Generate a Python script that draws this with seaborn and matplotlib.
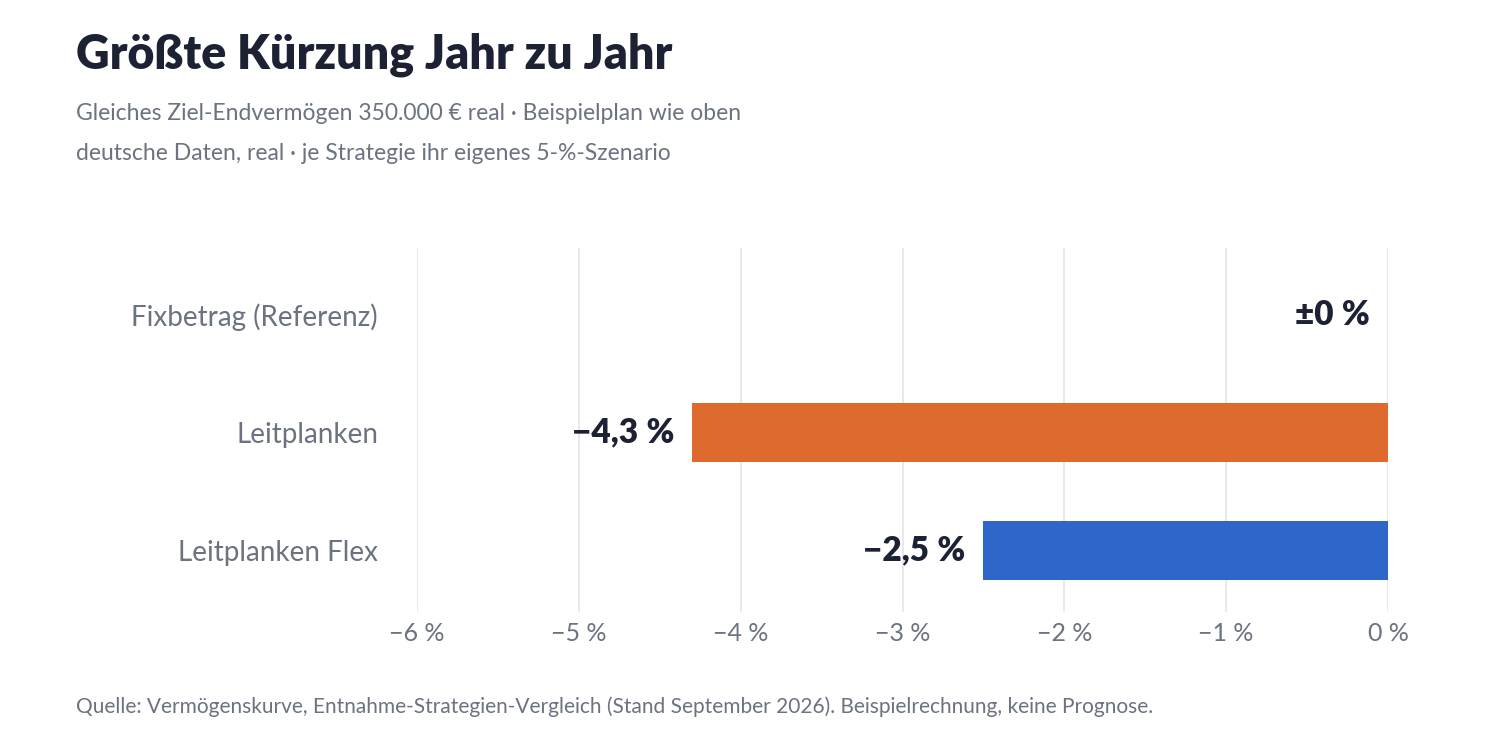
import pandas as pd
import matplotlib.pyplot as plt
import seaborn as sns

# Data
strategies = ['Fixbetrag (Referenz)', 'Leitplanken', 'Leitplanken Flex']
max_cut = [0.0, -4.3, -2.5]
value_labels = ['±0\u202f%', '−4,3\u202f%', '−2,5\u202f%']
bar_colors = ['#9ca3af', '#df6a2d', '#2f66c9']
x_ticks = [-6, -5, -4, -3, -2, -1, 0]
x_tick_labels = ['−6\u202f%', '−5\u202f%', '−4\u202f%', '−3\u202f%', '−2\u202f%', '−1\u202f%', '0\u202f%']

df = pd.DataFrame({'Strategie': strategies, 'Kuerzung': max_cut})

sns.set_theme(style='white')
plt.rcParams['font.family'] = ['Lato', 'DejaVu Sans']

dark = '#1c2233'
gray = '#6b7280'

fig = plt.figure(figsize=(15.12, 7.42), dpi=100)
ax = fig.add_axes([417 / 1512, 1 - 612 / 742, (1388 - 417) / 1512, (612 - 248) / 742])

sns.barplot(data=df, y='Strategie', x='Kuerzung', hue='Strategie',
            palette=bar_colors, saturation=1, orient='h', width=0.5,
            linewidth=0, legend=False, ax=ax)

ax.set_xlim(-6, 0)
ax.set_ylim(2.525, -0.568)
ax.set_xticks(x_ticks)
ax.set_xticklabels(x_tick_labels)
ax.grid(axis='x', color='#e3e5e8', linewidth=1.2)
ax.set_axisbelow(True)
for s in ax.spines.values():
    s.set_visible(False)
ax.set_xlabel('')
ax.set_ylabel('')
ax.tick_params(axis='x', length=0, pad=7, labelsize=18, labelcolor=gray)
ax.tick_params(axis='y', length=0, pad=28, labelsize=20, labelcolor=gray)

# value labels at bar ends
for i, (v, lab) in enumerate(zip(max_cut, value_labels)):
    ax.annotate(lab, xy=(v, i), xytext=(-13, 0), textcoords='offset points',
                ha='right', va='center', fontsize=24, fontweight='heavy', color=dark)

fig.text(76 / 1512, 1 - 55 / 742, 'Größte Kürzung Jahr zu Jahr', fontsize=33.5,
         fontweight='heavy', color=dark, va='center', ha='left')
fig.text(76 / 1512, 1 - 113 / 742, 'Gleiches Ziel-Endvermögen 350.000 € real · Beispielplan wie oben',
         fontsize=16.5, color=gray, va='center', ha='left')
fig.text(76 / 1512, 1 - 153 / 742, 'deutsche Daten, real · je Strategie ihr eigenes 5-%-Szenario',
         fontsize=16.5, color=gray, va='center', ha='left')
fig.text(76 / 1512, 1 - 707 / 742,
         'Quelle: Vermögenskurve, Entnahme-Strategien-Vergleich (Stand September 2026). Beispielrechnung, keine Prognose.',
         fontsize=15, color=gray, va='center', ha='left')

fig.savefig('out.png', dpi=100, facecolor='white')
